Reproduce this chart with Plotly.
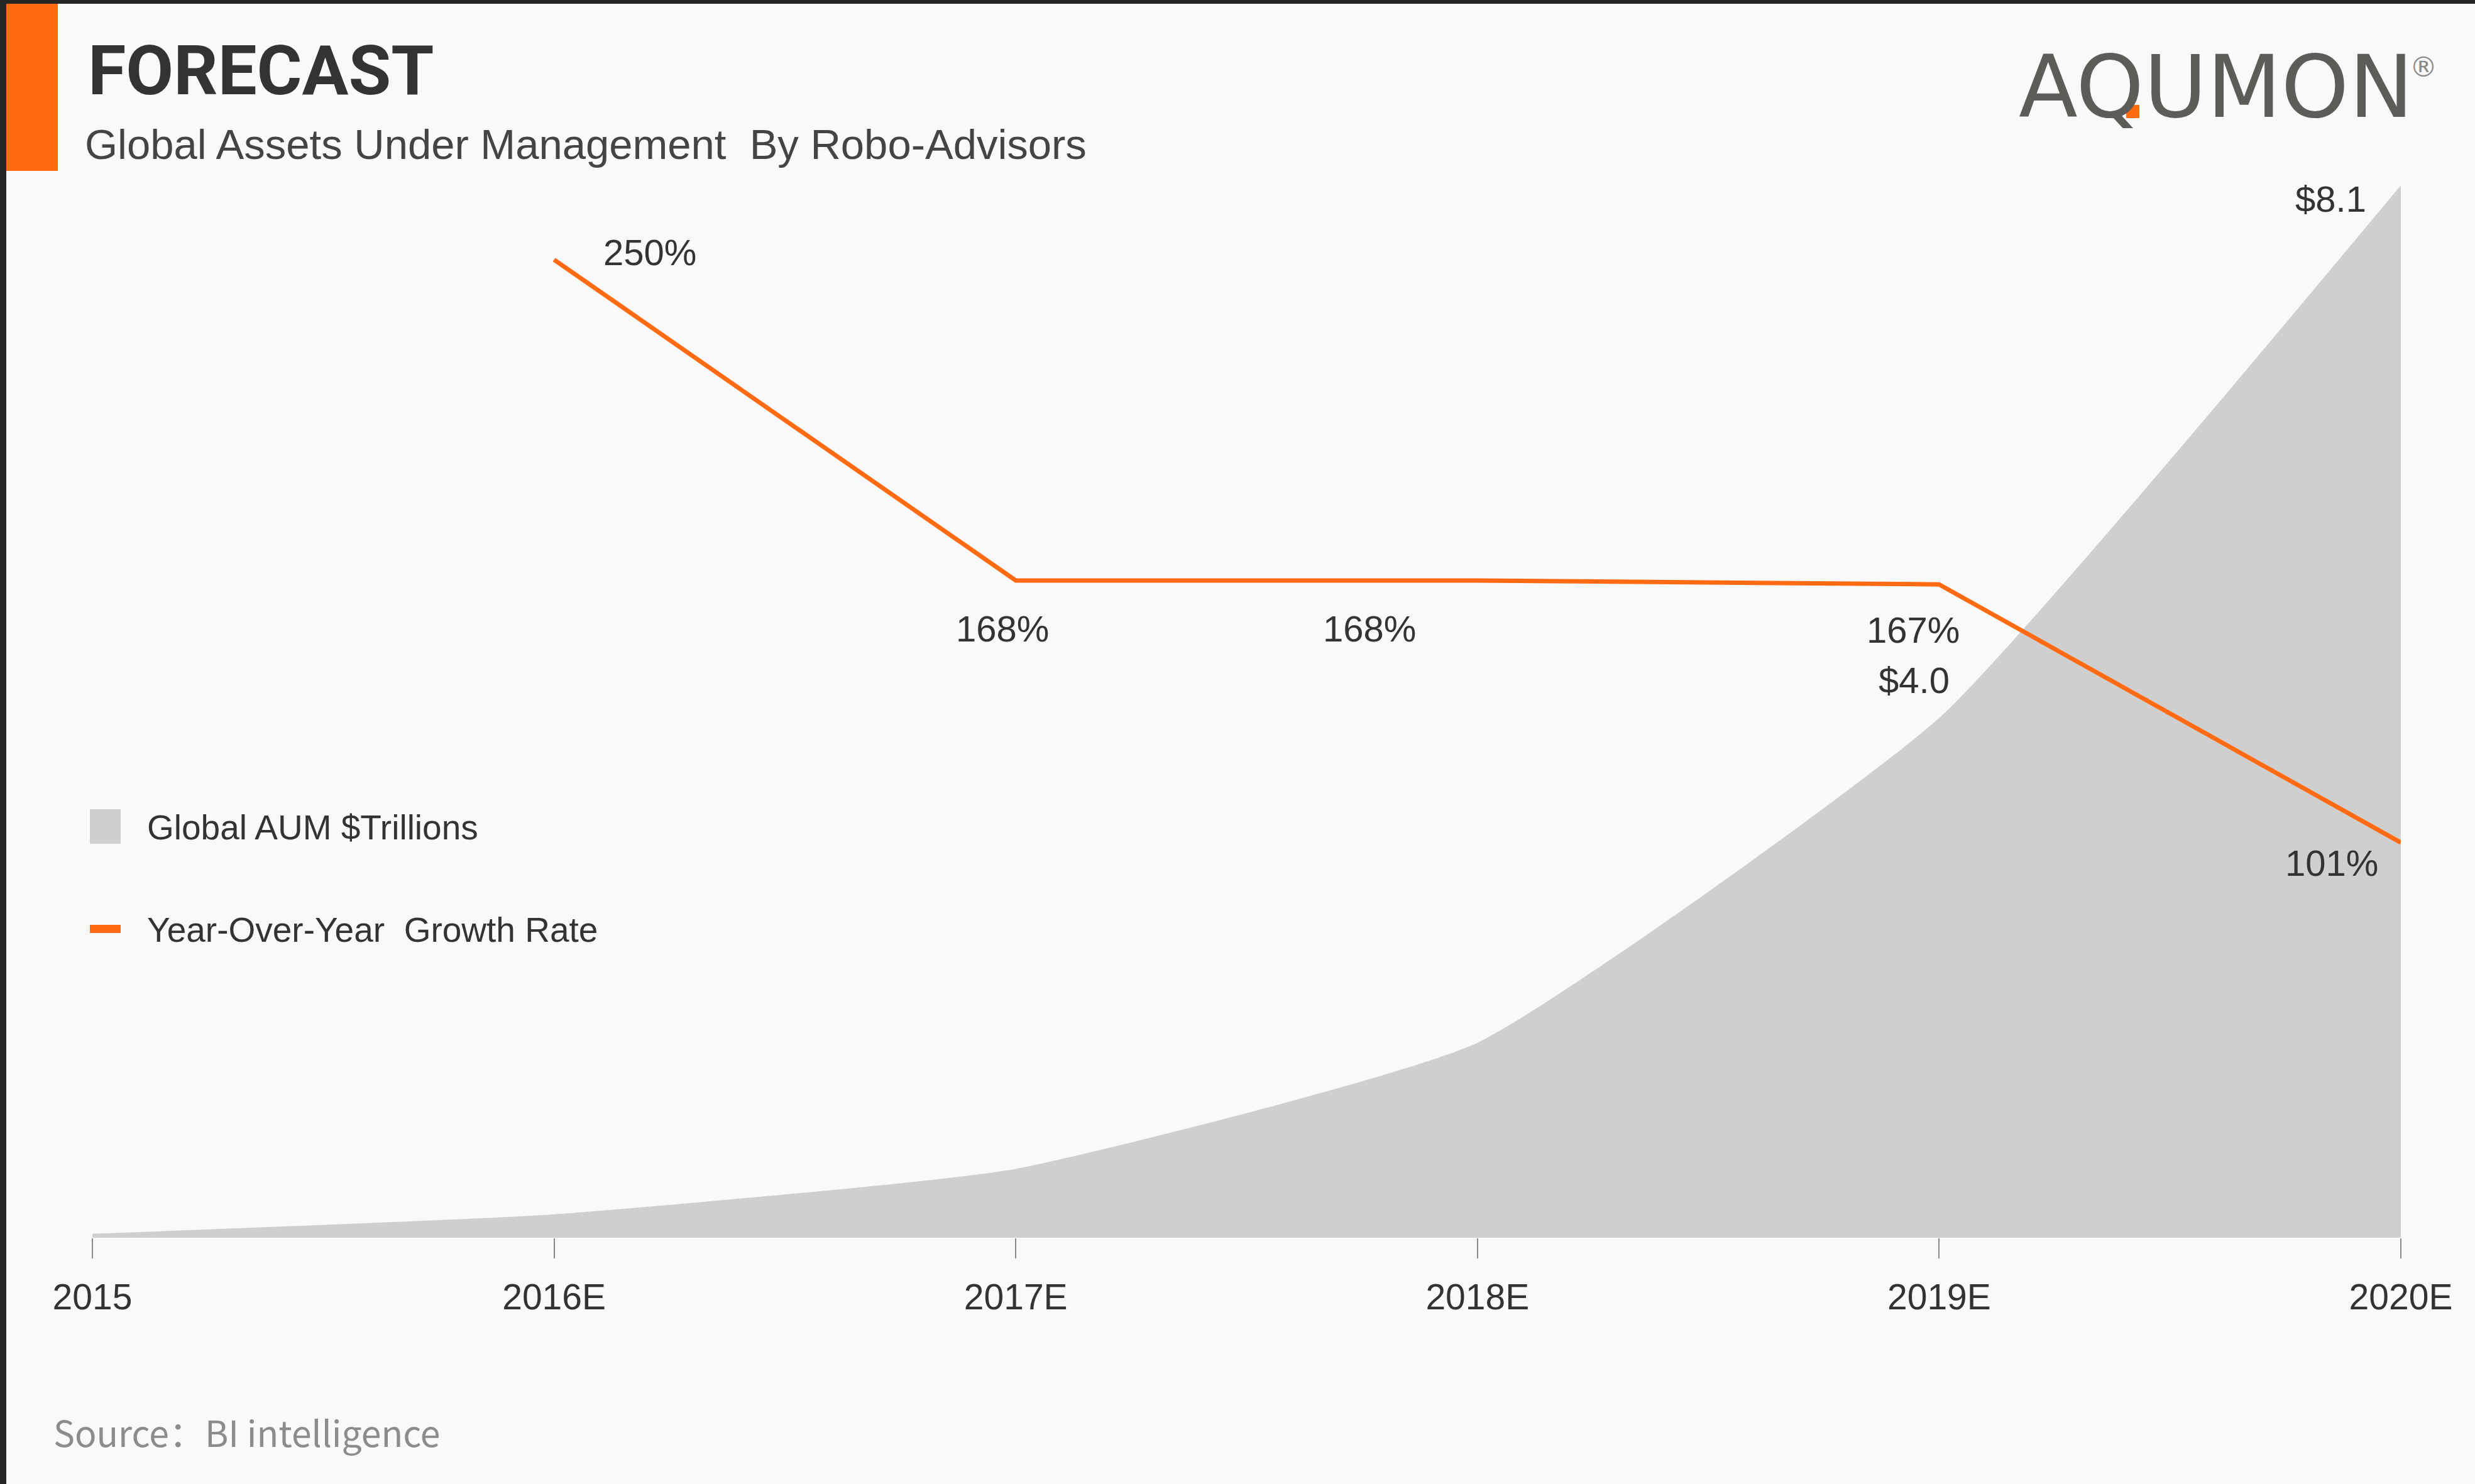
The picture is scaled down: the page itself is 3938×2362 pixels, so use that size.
import plotly.graph_objects as go

# ---------------- data ----------------
categories = ["2015", "2016E", "2017E", "2018E", "2019E", "2020E"]
aum_trillions = [0.03, 0.18, 0.53, 1.50, 4.00, 8.10]
growth_years = ["2016E", "2017E", "2018E", "2019E", "2020E"]
growth_rate = [250, 168, 168, 167, 101]

# ---------------- geometry (pixels) ----------------
W, H = 3938, 2362
PL, PR, PT, PB = 147, 3820, 295, 1970      # plot area in page pixels
PW, PH = PR - PL, PB - PT

def px(x):
    return (x - PL) / PW

def py(y):
    return (PB - y) / PH

ORANGE = "#FF6A13"
AREA = "#D0CFCF"
BG = "#F9F9F9"
DARK = "#262626"
TXT = "#333333"

xi = list(range(len(categories)))
gx = [categories.index(c) for c in growth_years]

fig = go.Figure()
fig.add_trace(go.Scatter(
    x=xi, y=aum_trillions, mode="lines", fill="tozeroy",
    fillcolor=AREA, line=dict(color=AREA, width=0, shape="spline", smoothing=0.45),
    name="Global AUM $Trillions", showlegend=False, hoverinfo="skip"))
fig.add_trace(go.Scatter(
    x=gx, y=growth_rate, mode="lines", yaxis="y2",
    line=dict(color=ORANGE, width=7),
    name="Year-Over-Year  Growth Rate", showlegend=False, hoverinfo="skip"))

LBL = dict(family="Liberation Sans, Arial, sans-serif", size=58, color=TXT)
ann = []

def gl(i, dx, dy):
    ann.append(dict(x=gx[i], y=growth_rate[i], xref="x", yref="y2",
                    text=f"{growth_rate[i]}%", showarrow=False,
                    xshift=dx, yshift=dy, font=LBL,
                    xanchor="center", yanchor="middle"))

gl(0, 152, 12)
gl(1, -21, -77)
gl(2, -172, -77)
gl(3, -41, -72)
gl(4, -110, -32)

def al(i, dx, dy):
    ann.append(dict(x=xi[i], y=aum_trillions[i], xref="x", yref="y",
                    text=f"${aum_trillions[i]:.1f}", showarrow=False,
                    xshift=dx, yshift=dy, font=LBL,
                    xanchor="center", yanchor="middle"))

al(4, -40, 60)
al(5, -112, -21)

# title / subtitle
ann.append(dict(x=px(138), y=py(112), xref="paper", yref="paper", text="<b>FORECAST</b>",
                showarrow=False, xanchor="left", yanchor="middle",
                font=dict(family="Roboto, Liberation Sans, sans-serif", size=110, color="#333333")))
ann.append(dict(x=px(133), y=py(230), xref="paper", yref="paper",
                text="Global Assets Under Management  By Robo-Advisors",
                showarrow=False, xanchor="left", yanchor="middle",
                font=dict(family="Liberation Sans, Arial, sans-serif", size=67, color="#444444")))
# logo
ann.append(dict(x=px(3526), y=py(138), xref="paper", yref="paper", text="AQUMON",
                showarrow=False, xanchor="center", yanchor="middle",
                font=dict(family="DejaVu Sans, sans-serif", size=137, color="#5d5c58")))
ann.append(dict(x=px(3856), y=py(107), xref="paper", yref="paper", text="®",
                showarrow=False, xanchor="center", yanchor="middle",
                font=dict(family="DejaVu Sans, sans-serif", size=44, color="#8a8a8a")))
# legend texts
LEG = dict(family="Liberation Sans, Arial, sans-serif", size=55, color=TXT)
ann.append(dict(x=px(232), y=py(1317), xref="paper", yref="paper", text="Global AUM $Trillions",
                showarrow=False, xanchor="left", yanchor="middle", font=LEG))
ann.append(dict(x=px(232), y=py(1480), xref="paper", yref="paper", text="Year-Over-Year  Growth Rate",
                showarrow=False, xanchor="left", yanchor="middle", font=LEG))
# source
ann.append(dict(x=px(83), y=py(2278), xref="paper", yref="paper", text="Source：BI intelligence",
                showarrow=False, xanchor="left", yanchor="middle",
                font=dict(family="Noto Sans CJK SC, sans-serif", size=57, color="#8c8c8c")))

def rect(x0, y0, x1, y1, color):
    return dict(type="rect", xref="paper", yref="paper",
                x0=px(x0), x1=px(x1), y0=py(y1), y1=py(y0),
                fillcolor=color, line=dict(width=0), layer="above")

shapes = [
    rect(0, 0, 10, H, DARK),
    rect(0, 0, W, 6, DARK),
    rect(10, 6, 92, 272, ORANGE),
    rect(143, 1288, 192, 1343, AREA),
    rect(143, 1472, 192, 1485, ORANGE),
    rect(3383, 167, 3404, 188, ORANGE),
]

fig.update_layout(
    width=W, height=H,
    margin=dict(l=PL, r=W - PR, t=PT, b=H - PB, pad=0),
    paper_bgcolor=BG, plot_bgcolor=BG,
    showlegend=False,
    xaxis=dict(range=[0, 5], tickmode="array", tickvals=xi, ticktext=categories,
               ticks="outside", ticklen=32, tickwidth=2, tickcolor="#8a8a8a",
               ticklabelstandoff=13,
               showgrid=False, zeroline=False, showline=False,
               tickfont=dict(family="Liberation Sans, Arial, sans-serif", size=57, color=TXT)),
    yaxis=dict(range=[0, 8.1], visible=False, showgrid=False, zeroline=False),
    yaxis2=dict(range=[0, 269], overlaying="y", side="right", visible=False,
                showgrid=False, zeroline=False),
    annotations=ann,
    shapes=shapes,
)

fig.write_html("out.html", config={"displayModeBar": False},
               post_script="document.body.style.margin='0';document.body.style.overflow='hidden';")
